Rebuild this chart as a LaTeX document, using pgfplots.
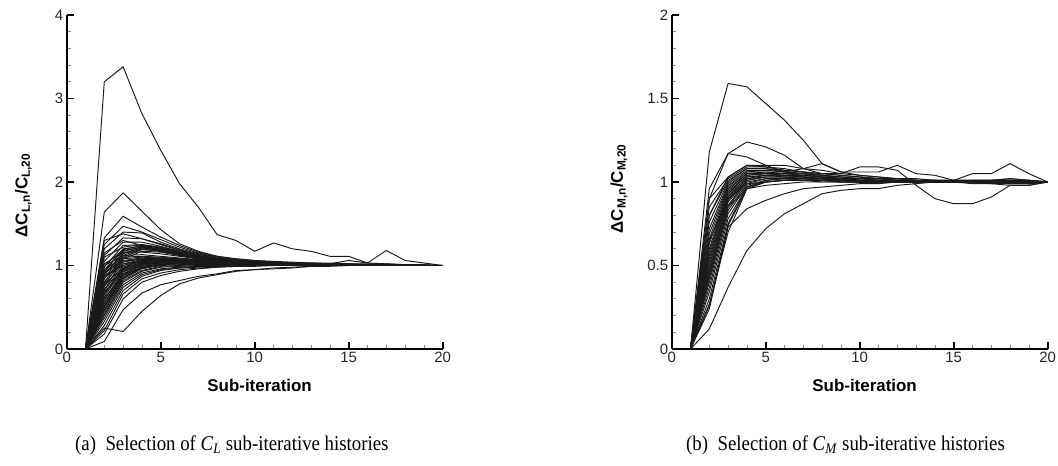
\documentclass[border=0pt]{standalone}
\usepackage{fontspec}
\setmainfont{Liberation Serif}
\setsansfont{Liberation Sans}
\usepackage{graphicx}
\usepackage{pgfplots}
\usepackage{pgfplotstable}
\pgfplotsset{compat=1.18}

\pgfplotstableread{
id v1 v2 v3 v4 v5 v6 v7 v8 v9 v10 v11 v12 v13 v14 v15 v16 v17 v18 v19 v20
c1 0 3.20 3.38 2.82 2.38 1.98 1.70 1.37 1.30 1.17 1.27 1.20 1.17 1.11 1.11 1.03 1.18 1.06 1.03 1.00
c2 0 1.64 1.87 1.65 1.43 1.26 1.17 1.11 1.08 1.06 1.05 1.04 1.03 1.03 1.02 1.02 1.02 1.01 1.01 1.00
c3 0 1.33 1.59 1.46 1.34 1.24 1.16 1.11 1.08 1.06 1.04 1.03 1.03 1.02 1.02 1.01 1.01 1.01 1.00 1.00
c4 0 1.25 1.47 1.40 1.31 1.22 1.15 1.10 1.07 1.05 1.04 1.03 1.02 1.02 1.01 1.01 1.01 1.00 1.00 1.00
c5 0 1.20 1.40 1.39 1.28 1.20 1.14 1.09 1.06 1.05 1.04 1.03 1.02 1.02 1.01 1.01 1.01 1.00 1.00 1.00
c6 0 1.12 1.33 1.32 1.25 1.18 1.12 1.08 1.06 1.04 1.03 1.03 1.02 1.02 1.01 1.01 1.00 1.00 1.00 1.00
c7 0 1.05 1.28 1.28 1.23 1.17 1.12 1.08 1.06 1.04 1.03 1.03 1.02 1.02 1.01 1.01 1.01 1.00 1.00 1.00
c8 0 0.98 1.24 1.25 1.21 1.16 1.11 1.08 1.05 1.04 1.03 1.02 1.02 1.01 1.01 1.01 1.00 1.00 1.00 1.00
c9 0 0.92 1.20 1.23 1.20 1.15 1.10 1.07 1.05 1.04 1.03 1.02 1.02 1.01 1.01 1.01 1.01 1.00 1.00 1.00
c10 0 0.88 1.17 1.22 1.19 1.14 1.10 1.07 1.05 1.04 1.03 1.02 1.02 1.02 1.01 1.01 1.01 1.01 1.00 1.00
c11 0 0.84 1.15 1.21 1.18 1.14 1.10 1.07 1.05 1.04 1.03 1.02 1.02 1.01 1.01 1.01 1.00 1.00 1.00 1.00
c12 0 0.80 1.12 1.20 1.17 1.13 1.09 1.06 1.05 1.04 1.03 1.02 1.02 1.01 1.01 1.01 1.01 1.00 1.00 1.00
c13 0 0.95 1.18 1.22 1.19 1.14 1.10 1.07 1.05 1.04 1.03 1.03 1.02 1.02 1.01 1.01 1.01 1.01 1.00 1.00
c14 0 0.76 1.10 1.19 1.17 1.13 1.09 1.06 1.04 1.03 1.03 1.02 1.02 1.01 1.01 1.01 1.00 1.00 1.00 1.00
c15 0 0.95 1.10 1.11 1.10 1.08 1.07 1.05 1.04 1.03 1.03 1.02 1.02 1.01 1.01 1.01 1.01 1.00 1.00 1.00
c16 0 0.90 1.08 1.10 1.09 1.07 1.06 1.05 1.04 1.03 1.02 1.02 1.02 1.01 1.01 1.01 1.01 1.00 1.00 1.00
c17 0 0.85 1.06 1.09 1.08 1.07 1.06 1.04 1.03 1.03 1.02 1.02 1.01 1.01 1.01 1.01 1.00 1.00 1.00 1.00
c18 0 0.80 1.04 1.08 1.08 1.06 1.05 1.04 1.03 1.03 1.02 1.02 1.01 1.01 1.01 1.01 1.01 1.00 1.00 1.00
c19 0 0.75 1.02 1.07 1.07 1.06 1.05 1.04 1.03 1.02 1.02 1.02 1.01 1.01 1.01 1.01 1.00 1.00 1.00 1.00
c20 0 0.70 1.00 1.06 1.07 1.06 1.05 1.03 1.02 1.02 1.02 1.01 1.01 1.01 1.01 1.00 1.00 1.00 1.00 1.00
c21 0 0.66 0.98 1.05 1.06 1.05 1.04 1.03 1.02 1.02 1.02 1.01 1.01 1.01 1.01 1.01 1.00 1.00 1.00 1.00
c22 0 0.62 0.96 1.04 1.05 1.05 1.04 1.03 1.02 1.02 1.01 1.01 1.01 1.01 1.00 1.00 1.00 1.00 1.00 1.00
c23 0 0.58 0.94 1.03 1.05 1.04 1.03 1.02 1.02 1.02 1.01 1.01 1.01 1.01 1.01 1.00 1.00 1.00 1.00 1.00
c24 0 0.55 0.92 1.02 1.04 1.04 1.03 1.02 1.02 1.01 1.01 1.01 1.01 1.00 1.00 1.00 1.00 1.00 1.00 1.00
c25 0 0.52 0.90 1.01 1.03 1.03 1.03 1.02 1.01 1.01 1.01 1.01 1.01 1.01 1.00 1.00 1.00 1.00 1.00 1.00
c26 0 0.50 0.88 0.99 1.02 1.03 1.02 1.02 1.01 1.01 1.01 1.01 1.00 1.00 1.00 1.00 1.00 1.00 1.00 1.00
c27 0 0.47 0.86 0.98 1.01 1.02 1.02 1.01 1.01 1.01 1.01 1.00 1.00 1.00 1.00 1.00 1.00 1.00 1.00 1.00
c28 0 0.45 0.84 0.96 1.00 1.01 1.01 1.01 1.01 1.01 1.00 1.00 1.00 1.00 1.00 1.00 1.00 1.00 1.00 1.00
c29 0 0.42 0.82 0.94 0.99 1.00 1.01 1.01 1.00 1.00 1.00 1.00 1.00 1.00 1.00 1.00 1.00 1.00 1.00 1.00
c30 0 0.40 0.80 0.93 0.98 0.99 1.00 1.00 1.00 1.00 1.00 1.00 1.00 1.00 1.00 1.00 1.00 1.00 1.00 1.00
c31 0 0.37 0.77 0.91 0.96 0.98 0.99 1.00 1.00 1.00 1.00 1.00 1.00 1.00 1.00 1.00 1.00 1.00 1.00 1.00
c32 0 0.33 0.74 0.89 0.95 0.97 0.99 0.99 1.00 1.00 1.00 1.00 1.00 1.00 1.00 1.00 1.00 1.00 1.00 1.00
c33 0 0.28 0.70 0.87 0.94 0.97 0.98 0.99 0.99 1.00 1.00 1.00 1.00 1.00 1.00 1.00 1.00 1.00 1.00 1.00
c34 0 1.00 1.12 1.13 1.11 1.09 1.07 1.05 1.04 1.03 1.03 1.02 1.02 1.02 1.01 1.01 1.01 1.01 1.00 1.00
c35 0 0.86 1.02 1.05 1.05 1.05 1.04 1.03 1.02 1.02 1.02 1.01 1.01 1.01 1.01 1.01 1.00 1.00 1.00 1.00
c36 0 0.72 0.95 1.02 1.04 1.04 1.03 1.02 1.02 1.01 1.01 1.01 1.01 1.01 1.00 1.00 1.00 1.00 1.00 1.00
c37 0 0.60 0.90 1.00 1.03 1.03 1.03 1.02 1.01 1.01 1.01 1.01 1.00 1.00 1.00 1.00 1.00 1.00 1.00 1.00
c38 0 0.50 0.85 0.97 1.01 1.02 1.02 1.02 1.01 1.01 1.01 1.00 1.00 1.00 1.00 1.00 1.00 1.00 1.00 1.00
c39 0 0.09 0.47 0.67 0.77 0.82 0.87 0.90 0.94 0.95 0.96 0.97 0.99 1.00 1.00 1.00 1.00 1.00 1.00 1.00
c40 0 0.25 0.21 0.45 0.64 0.78 0.85 0.89 0.93 0.95 0.97 0.98 0.99 0.99 1.00 1.00 1.00 1.00 1.00 1.00
c41 0 0.18 0.60 0.80 0.88 0.93 0.96 0.98 0.99 0.99 1.00 1.00 1.00 1.00 1.00 1.00 1.00 1.00 1.00 1.00
c42 0 0.22 0.66 0.84 0.91 0.95 0.97 0.98 0.99 1.00 1.00 1.00 1.00 1.00 1.00 1.00 1.00 1.00 1.00 1.00
c43 0 1.15 1.30 1.24 1.17 1.12 1.08 1.06 1.04 1.03 1.03 1.02 1.02 1.02 1.06 1.03 1.02 1.01 1.01 1.00
c44 0 1.30 1.38 1.32 1.26 1.19 1.13 1.09 1.06 1.05 1.04 1.03 1.03 1.02 1.02 1.01 1.01 1.01 1.00 1.00
c45 0 1.02 1.16 1.16 1.14 1.11 1.08 1.06 1.04 1.03 1.03 1.02 1.02 1.01 1.01 1.01 1.01 1.00 1.00 1.00
c46 0 0.70 1.08 1.17 1.16 1.12 1.08 1.06 1.04 1.03 1.02 1.02 1.02 1.01 1.01 1.01 1.00 1.00 1.00 1.00
c47 0 0.65 0.96 1.08 1.08 1.06 1.05 1.04 1.03 1.02 1.02 1.01 1.01 1.01 1.01 1.00 1.00 1.00 1.00 1.00
c48 0 0.55 0.88 1.03 1.06 1.05 1.04 1.03 1.02 1.02 1.01 1.01 1.01 1.01 1.00 1.00 1.00 1.00 1.00 1.00
c49 0 1.10 1.22 1.25 1.22 1.17 1.12 1.08 1.06 1.04 1.03 1.03 1.02 1.02 1.01 1.01 1.01 1.00 1.00 1.00
c50 0 1.00 1.19 1.24 1.21 1.16 1.11 1.08 1.05 1.04 1.03 1.02 1.02 1.01 1.01 1.01 1.01 1.00 1.00 1.00
c51 0 0.90 1.14 1.21 1.20 1.15 1.10 1.07 1.05 1.04 1.03 1.02 1.02 1.01 1.01 1.01 1.00 1.00 1.00 1.00
c52 0 0.92 1.05 1.08 1.09 1.08 1.06 1.05 1.04 1.03 1.02 1.02 1.01 1.01 1.01 1.01 1.01 1.00 1.00 1.00
c53 0 0.88 1.00 1.05 1.07 1.07 1.06 1.04 1.03 1.03 1.02 1.02 1.01 1.01 1.01 1.01 1.00 1.00 1.00 1.00
c54 0 0.78 0.97 1.03 1.06 1.06 1.05 1.04 1.03 1.02 1.02 1.01 1.01 1.01 1.01 1.00 1.00 1.00 1.00 1.00
c55 0 0.68 0.93 1.01 1.04 1.05 1.04 1.03 1.02 1.02 1.01 1.01 1.01 1.01 1.00 1.00 1.00 1.00 1.00 1.00
c56 0 0.60 0.88 0.98 1.02 1.03 1.03 1.02 1.02 1.01 1.01 1.01 1.00 1.00 1.00 1.00 1.00 1.00 1.00 1.00
}\CLraw
\pgfplotstabletranspose[colnames from=id]{\CLt}{\CLraw}

\pgfplotstableread{
id v1 v2 v3 v4 v5 v6 v7 v8 v9 v10 v11 v12 v13 v14 v15 v16 v17 v18 v19 v20
m1 0 1.18 1.59 1.57 1.47 1.37 1.25 1.11 1.06 1.06 1.06 1.10 1.05 1.04 1.01 1.05 1.05 1.11 1.05 1.00
m2 0 0.96 1.17 1.24 1.21 1.16 1.08 1.05 1.05 1.09 1.09 1.07 0.98 0.90 0.87 0.87 0.91 0.98 0.98 1.00
m3 0 0.90 1.17 1.15 1.10 1.06 1.08 1.11 1.06 1.04 1.03 1.02 1.01 1.01 1.00 1.00 1.00 1.00 1.00 1.00
m4 0 0.80 1.03 1.10 1.10 1.10 1.08 1.07 1.05 1.04 1.03 1.02 1.02 1.01 1.01 1.01 1.01 1.01 1.00 1.00
m5 0 0.90 1.03 1.10 1.09 1.08 1.06 1.05 1.04 1.03 1.02 1.02 1.01 1.01 1.01 1.01 1.01 1.01 1.00 1.00
m6 0 0.85 1.02 1.09 1.09 1.07 1.06 1.05 1.04 1.03 1.02 1.02 1.01 1.01 1.01 1.01 1.01 1.02 1.01 1.00
m7 0 0.80 1.01 1.08 1.08 1.07 1.06 1.04 1.03 1.03 1.02 1.01 1.01 1.01 1.01 1.01 1.01 1.02 1.01 1.00
m8 0 0.76 1.00 1.08 1.08 1.06 1.05 1.04 1.03 1.02 1.02 1.01 1.01 1.01 1.00 1.01 1.01 1.01 1.01 1.00
m9 0 0.72 0.99 1.07 1.07 1.06 1.05 1.04 1.03 1.02 1.02 1.01 1.01 1.00 1.00 1.00 1.01 1.01 1.01 1.00
m10 0 0.69 0.98 1.06 1.07 1.06 1.05 1.04 1.02 1.02 1.01 1.01 1.01 1.00 1.00 1.00 1.00 1.01 1.00 1.00
m11 0 0.66 0.97 1.06 1.06 1.05 1.05 1.03 1.02 1.02 1.01 1.01 1.00 1.00 1.00 1.00 1.00 1.01 1.00 1.00
m12 0 0.63 0.96 1.05 1.06 1.05 1.04 1.03 1.02 1.01 1.01 1.01 1.00 1.00 1.00 1.00 1.00 1.00 1.00 1.00
m13 0 0.60 0.95 1.05 1.05 1.05 1.04 1.03 1.02 1.01 1.01 1.00 1.00 1.00 1.00 1.00 1.00 1.00 1.00 1.00
m14 0 0.58 0.94 1.04 1.05 1.04 1.04 1.03 1.02 1.01 1.01 1.00 1.00 1.00 1.00 1.00 1.00 1.00 1.00 1.00
m15 0 0.56 0.93 1.04 1.05 1.04 1.03 1.03 1.02 1.01 1.01 1.00 1.00 1.00 1.00 1.00 1.00 1.00 0.99 1.00
m16 0 0.54 0.92 1.03 1.04 1.04 1.03 1.02 1.02 1.01 1.00 1.00 1.00 1.00 1.00 1.00 1.00 1.00 0.99 1.00
m17 0 0.52 0.91 1.03 1.04 1.04 1.03 1.02 1.01 1.01 1.00 1.00 1.00 1.00 1.00 1.00 1.00 0.99 0.99 1.00
m18 0 0.50 0.90 1.02 1.04 1.03 1.03 1.02 1.01 1.01 1.00 1.00 1.00 1.00 1.00 1.00 1.00 0.99 0.99 1.00
m19 0 0.48 0.89 1.02 1.03 1.03 1.03 1.02 1.01 1.00 1.00 1.00 1.00 1.00 1.00 0.99 0.99 0.99 0.99 1.00
m20 0 0.46 0.88 1.01 1.03 1.03 1.02 1.02 1.01 1.00 1.00 1.00 1.00 1.00 1.00 1.00 0.99 0.98 0.98 1.00
m21 0 0.44 0.86 1.01 1.03 1.03 1.02 1.02 1.01 1.00 1.00 1.00 1.00 1.00 1.00 1.00 1.00 1.00 1.00 1.00
m22 0 0.42 0.85 1.00 1.02 1.02 1.02 1.01 1.01 1.00 1.00 1.00 1.00 1.00 1.00 1.00 1.00 1.00 1.00 1.00
m23 0 0.40 0.83 0.99 1.02 1.02 1.02 1.01 1.01 1.00 1.00 1.00 1.00 1.00 1.00 1.00 1.00 1.00 1.00 1.00
m24 0 0.37 0.81 0.98 1.01 1.02 1.01 1.01 1.01 1.00 1.00 1.00 1.00 1.00 1.00 1.00 1.00 1.00 1.00 1.00
m25 0 0.34 0.78 0.97 1.01 1.02 1.01 1.01 1.00 1.00 1.00 1.00 1.00 1.00 1.00 1.00 1.00 1.00 1.00 1.00
m26 0 0.30 0.75 0.97 1.00 1.01 1.01 1.01 1.00 1.00 1.00 1.00 1.00 1.00 1.00 1.00 1.00 1.00 1.00 1.00
m27 0 0.27 0.70 0.96 1.00 1.01 1.01 1.00 1.00 1.00 1.00 1.00 1.00 1.00 1.00 1.00 1.00 1.00 1.00 1.00
m28 0 0.12 0.37 0.59 0.72 0.81 0.87 0.93 0.95 0.96 0.96 0.98 0.99 1.00 1.00 1.00 1.00 1.00 1.00 1.00
m29 0 0.24 0.73 0.84 0.89 0.93 0.96 0.97 0.98 0.99 0.99 1.00 1.00 1.00 1.00 1.00 1.00 1.00 1.00 1.00
m30 0 0.26 0.74 0.96 1.00 1.01 1.01 1.01 1.00 1.00 1.00 1.00 1.00 1.00 1.00 1.00 1.00 1.00 1.00 1.00
m31 0 0.45 0.85 0.96 0.98 0.99 1.00 1.00 1.00 1.00 1.00 1.00 1.00 1.00 1.00 1.00 1.00 1.00 1.00 1.00
m32 0 0.65 0.90 0.99 1.00 1.01 1.01 1.01 1.01 1.00 1.00 1.00 1.00 1.00 1.00 1.00 1.00 1.00 1.00 1.00
}\CMraw
\pgfplotstabletranspose[colnames from=id]{\CMt}{\CMraw}

\pgfplotsset{
  tec/.style={
    scale only axis, width=376bp, height=334bp, anchor=south west,
    axis x line=bottom, axis y line=left,
    every non boxed x axis/.append style={x axis line style=-},
    every non boxed y axis/.append style={y axis line style=-},
    axis line style={line width=1.8bp, black, -},
    xmin=0, xmax=20, ymin=0,
    xtick={0,5,10,15,20},
    minor x tick num=4, minor y tick num=4,
    tick align=inside,
    major tick length=7bp, minor tick length=4bp,
    major tick style={line width=1.8bp, black},
    minor tick style={line width=0.8bp, black!45},
    tick label style={font=\fontsize{15}{18}\selectfont\sffamily, text=black!85},
    /pgf/number format/assume math mode=true,
    xlabel={\bfseries Sub-iteration},
    label style={font=\fontsize{17}{20}\selectfont\sffamily},
    xlabel style={at={(axis description cs:0.513,-0.109)}, anchor=center},
  },
  curve/.style={black!90, line width=0.95bp, no marks},
}

\begin{document}
\begin{tikzpicture}
\useasboundingbox (0,0) rectangle (1058bp,466bp);

\begin{axis}[tec, at={(66.7bp,117bp)},
  ymax=4, ytick={0,1,2,3,4},
  ylabel={\bfseries ΔC\textsubscript{L,n}/C\textsubscript{L,20}},
  ylabel style={at={(axis description cs:-0.115,0.46)}, anchor=center}]
\pgfplotsinvokeforeach{1,...,56}{
  \addplot[curve] table[x expr=\coordindex+1, y=c#1]{\CLt};
}
\end{axis}

\begin{axis}[tec, at={(671.7bp,117bp)},
  ymax=2, ytick={0,0.5,1,1.5,2},
  ylabel={\bfseries ΔC\textsubscript{M,n}/C\textsubscript{M,20}},
  ylabel style={at={(axis description cs:-0.14,0.48)}, anchor=center}]
\pgfplotsinvokeforeach{1,...,32}{
  \addplot[curve] table[x expr=\coordindex+1, y=m#1]{\CMt};
}
\end{axis}

\node[anchor=base west, font=\fontsize{21}{24}\selectfont, inner sep=0pt] at (75bp,16bp)
  {\scalebox{0.9}[1]{(a)\ \ Selection of \textit{C}\textsubscript{\textit{L}} sub-iterative histories}};
\node[anchor=base west, font=\fontsize{21}{24}\selectfont, inner sep=0pt] at (686bp,16bp)
  {\scalebox{0.9}[1]{(b)\ \ Selection of \textit{C}\textsubscript{\textit{M}} sub-iterative histories}};
\end{tikzpicture}
\end{document}
